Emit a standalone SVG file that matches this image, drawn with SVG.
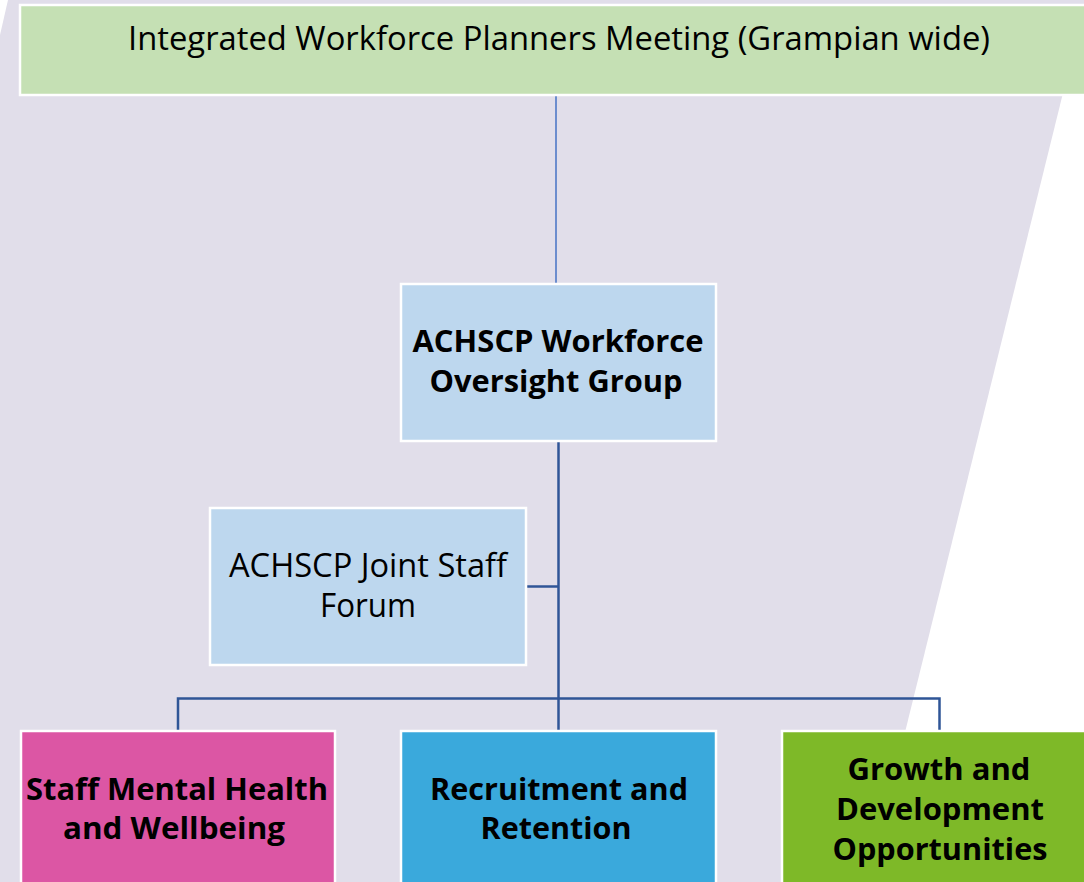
<svg xmlns="http://www.w3.org/2000/svg" width="1084" height="882" viewBox="0 0 1084 882">
<style>
.box{stroke:#FFFFFF;stroke-width:2.5}
.t{font-family:"Open Sans","Noto Sans","Liberation Sans",sans-serif;fill:#000000;text-anchor:middle}
.r{font-size:32px;font-weight:400}
.b{font-size:31px;font-weight:700}
.c{fill:none;stroke:#2F5597;stroke-width:2.5}
</style>
<rect x="0" y="0" width="1084" height="882" fill="#FFFFFF"/>
<polygon points="8,0 1086,0 868,882 0,882 0,35" fill="#E1DEEA"/>
<g id="connectors">
<line x1="556" y1="96" x2="556" y2="284" stroke="#4472C4" stroke-width="1.5"/>
<line class="c" x1="558.5" y1="442" x2="558.5" y2="730"/>
<line class="c" x1="527" y1="586.5" x2="558.5" y2="586.5"/>
<polyline class="c" points="178,730 178,698.5 939.5,698.5 939.5,730"/>
</g>
<g id="node-planners">
<rect class="box" x="20" y="5" width="1080" height="90" fill="#C5E0B4"/>
<text class="t r" x="559" y="50" textLength="862" lengthAdjust="spacingAndGlyphs">Integrated Workforce Planners Meeting (Grampian wide)</text>
</g>
<g id="node-oversight">
<rect class="box" x="401" y="284" width="315" height="157" fill="#BDD7EE"/>
<text class="t b" x="558" y="352" textLength="291" lengthAdjust="spacingAndGlyphs">ACHSCP Workforce</text>
<text class="t b" x="556" y="392" textLength="253" lengthAdjust="spacingAndGlyphs">Oversight Group</text>
</g>
<g id="node-forum">
<rect class="box" x="210" y="508" width="316" height="157" fill="#BDD7EE"/>
<text class="t r" x="368" y="577" textLength="278" lengthAdjust="spacingAndGlyphs">ACHSCP Joint Staff</text>
<text class="t r" x="368" y="617" textLength="96" lengthAdjust="spacingAndGlyphs">Forum</text>
</g>
<g id="node-wellbeing">
<rect class="box" x="21" y="731" width="314" height="160" fill="#DC56A4"/>
<text class="t b" x="177" y="800" textLength="302" lengthAdjust="spacingAndGlyphs">Staff Mental Health</text>
<text class="t b" x="174" y="839" textLength="222" lengthAdjust="spacingAndGlyphs">and Wellbeing</text>
</g>
<g id="node-recruitment">
<rect class="box" x="401" y="731" width="315" height="160" fill="#3AA9DC"/>
<text class="t b" x="559" y="800" textLength="258" lengthAdjust="spacingAndGlyphs">Recruitment and</text>
<text class="t b" x="556" y="839" textLength="151" lengthAdjust="spacingAndGlyphs">Retention</text>
</g>
<g id="node-growth">
<rect class="box" x="782" y="731" width="320" height="160" fill="#7EB928"/>
<text class="t b" x="939" y="780" textLength="183" lengthAdjust="spacingAndGlyphs">Growth and</text>
<text class="t b" x="940" y="820" textLength="208" lengthAdjust="spacingAndGlyphs">Development</text>
<text class="t b" x="940" y="860" textLength="215" lengthAdjust="spacingAndGlyphs">Opportunities</text>
</g>
</svg>
